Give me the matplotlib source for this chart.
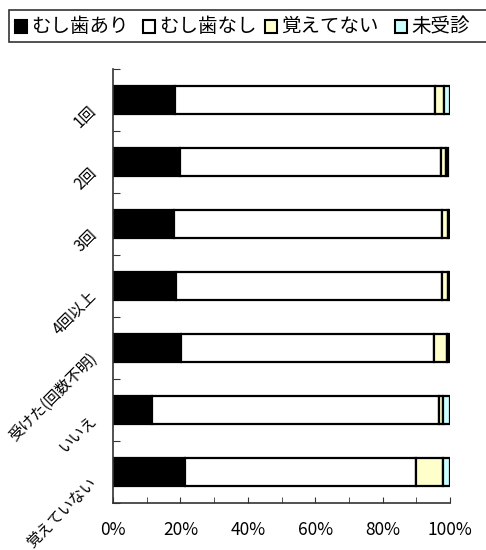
import numpy as np
import matplotlib.pyplot as plt
from matplotlib.patches import Rectangle
from matplotlib.transforms import ScaledTranslation

plt.rcParams['font.family'] = ['Noto Sans CJK JP', 'DejaVu Sans']

# Datos (porcentajes por categoría)
categorias = ['1回', '2回', '3回', '4回以上', '受けた(回数不明)', 'いいえ', '覚えていない']
series = ['むし歯あり', 'むし歯なし', '覚えてない', '未受診']
colores = ['#000000', '#FFFFFF', '#FFFFCC', '#CCFFFF']

mushiba_ari = [18.4, 19.9, 18.1, 18.6, 20.2, 11.5, 21.4]
mushiba_nashi = [77.1, 77.4, 79.4, 79.1, 75.0, 85.3, 68.4]
oboetenai = [2.7, 1.6, 1.8, 1.6, 4.0, 1.0, 8.2]
mijushin = [1.8, 0.6, 0.7, 0.7, 0.6, 2.2, 2.0]

valores = np.array([mushiba_ari, mushiba_nashi, oboetenai, mijushin]) / 100.0

fig = plt.figure(figsize=(4.86, 5.5), dpi=100)
ax = fig.add_axes([113 / 486, 1 - 503 / 550, 337 / 486, 434 / 550])

y = np.arange(len(categorias))
izquierda = np.zeros(len(categorias))
for i, serie in enumerate(series):
    ax.barh(y, valores[i], left=izquierda, height=0.44, color=colores[i],
            edgecolor='black', linewidth=1.6, label=serie)
    izquierda += valores[i]

ax.set_xlim(0, 1)
ax.set_ylim(len(categorias) - 0.5, -0.5)

ax.set_xticks(np.arange(0, 1.01, 0.2))
ax.set_xticklabels([f'{int(v * 100)}%' for v in np.arange(0, 1.01, 0.2)], fontsize=12.5)
ax.set_xticks(np.arange(0.1, 1.0, 0.2), minor=True)
ax.tick_params(axis='x', which='both', direction='in', length=4, color='#333333', pad=13)

ax.set_yticks(np.arange(-0.5, len(categorias), 1.0))
ax.set_yticklabels([])
ax.tick_params(axis='y', direction='in', length=5, color='#333333')

for lado in ['top', 'right']:
    ax.spines[lado].set_visible(False)
for lado in ['left', 'bottom']:
    ax.spines[lado].set_color('#333333')
    ax.spines[lado].set_linewidth(1.2)

# Etiquetas rotadas al estilo Excel
desplazamiento = ScaledTranslation(-19 / 100, -8 / 100, fig.dpi_scale_trans)
for i, cat in enumerate(categorias):
    ax.text(0, i, cat, transform=ax.get_yaxis_transform() + desplazamiento,
            rotation=45, rotation_mode='anchor', ha='right', va='center', fontsize=11)

# Leyenda dibujada a mano (el marco sale por la derecha)
fig.add_artist(Rectangle((9 / 486, 1 - 42 / 550), 490 / 486, 32 / 550,
                         transform=fig.transFigure, facecolor='white',
                         edgecolor='#333333', linewidth=1.2, clip_on=False))
pos_marcador = [15, 143, 265, 395]
for i, serie in enumerate(series):
    x0 = pos_marcador[i]
    fig.add_artist(Rectangle((x0 / 486, 1 - 32.5 / 550), 12 / 486, 12 / 550,
                             transform=fig.transFigure, facecolor=colores[i],
                             edgecolor='black', linewidth=1.5))
    fig.text((x0 + 16) / 486, 1 - 26.5 / 550, serie, fontsize=14, va='center', ha='left')

fig.savefig('out.png', dpi=100)
